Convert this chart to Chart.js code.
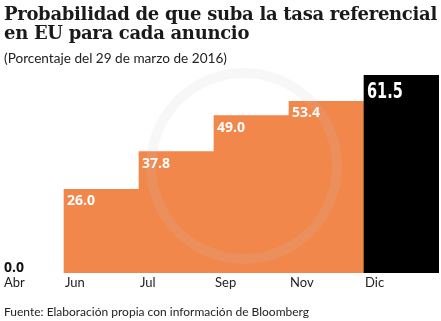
<!DOCTYPE html>
<html>
<head>
<meta charset="utf-8">
<script src="https://cdn.jsdelivr.net/npm/chart.js@4/dist/chart.umd.min.js"></script>
<style>
    body { margin:0; width:441px; height:321px; overflow:hidden; background:#fff; position:relative; }
    #title { position:absolute; left:4px; top:4px; white-space:nowrap; font-family:"DejaVu Serif"; font-weight:bold; font-size:18px; line-height:19px; color:#1a1a1a; letter-spacing:-0.3px; z-index:2; }
    #sub { position:absolute; left:4px; top:50px; white-space:nowrap; font-family:Lato; font-size:13.6px; color:#222; z-index:2; }
    #foot { position:absolute; left:4px; top:304px; white-space:nowrap; font-family:Lato; font-size:12px; color:#222; z-index:2; }
    #wm { position:absolute; left:146px; top:68px; width:176px; height:176px; border-radius:50%; border:10px solid rgba(200,200,200,0.15); z-index:3; }
    #chart { position:absolute; left:-11px; top:0; z-index:1; }
</style>
</head>
<body>
<div id="title">Probabilidad de que suba la tasa referencial<br>en EU para cada anuncio</div>
<div id="sub">(Porcentaje del 29 de marzo de 2016)</div>
<canvas id="chart" width="452" height="321"></canvas>
<div id="wm"></div>
<div id="foot">Fuente: Elaboración propia con información de Bloomberg</div>
<script type="text/javascript">

    var months = ["Abr", "Jun", "Jul", "Sep", "Nov", "Dic"];
    var probs = [0.0, 26.0, 37.8, 49.0, 53.4, 61.5];
    var barColors = ["rgba(0,0,0,0)", "#F1874A", "#F1874A", "#F1874A", "#F1874A", "#000000"];

    // labels sit at the left edge of each bar
    var stepLabels = {
        id: 'stepLabels',
        afterDatasetsDraw: function(chart) {
            var ctx = chart.ctx;
            var meta = chart.getDatasetMeta(0);
            var xs = chart.scales.x;
            ctx.save();
            ctx.textAlign = 'left';
            ctx.textBaseline = 'alphabetic';
            for (var i = 0; i < months.length; i++) {
                var bar = meta.data[i];
                var left = xs.getPixelForValue(i) - bar.width / 2;
                var lx = Math.max(left + 1, 15);
                ctx.fillStyle = '#222';
                ctx.font = '13px Lato';
                ctx.fillText(months[i], lx, chart.chartArea.bottom + 14);

                var txt = probs[i].toFixed(1);
                if (i == 0) {
                    ctx.fillStyle = '#111';
                    ctx.font = 'bold 14px "Open Sans"';
                    ctx.fillText(txt, lx, bar.y - 1);
                } else if (i == months.length - 1) {
                    // condensed look for the big label
                    ctx.fillStyle = '#fff';
                    ctx.font = 'bold 22px "DejaVu Sans"';
                    ctx.save();
                    ctx.translate(left + 3, bar.y + 23);
                    ctx.scale(0.66, 1);
                    ctx.fillText(txt, 0, 0);
                    ctx.restore();
                } else {
                    ctx.fillStyle = '#fff';
                    ctx.font = 'bold 14px "Open Sans"';
                    ctx.fillText(txt, left + 3, bar.y + 16);
                }
            }
            ctx.restore();
        }
    };

    new Chart(document.getElementById('chart'), {
        type: 'bar',
        data: {
            labels: months,
            datasets: [{
                data: probs,
                backgroundColor: barColors,
                barPercentage: 1,
                categoryPercentage: 1,
                borderWidth: 0
            }]
        },
        options: {
            responsive: false,
            animation: false,
            layout: { padding: { top: 48, bottom: 48, left: 0, right: 2 } },
            plugins: { legend: { display: false }, tooltip: { enabled: false } },
            scales: {
                x: { display: false },
                y: { display: false, min: 0, max: 70 }
            }
        },
        plugins: [stepLabels]
    });
</script>
</body>
</html>
